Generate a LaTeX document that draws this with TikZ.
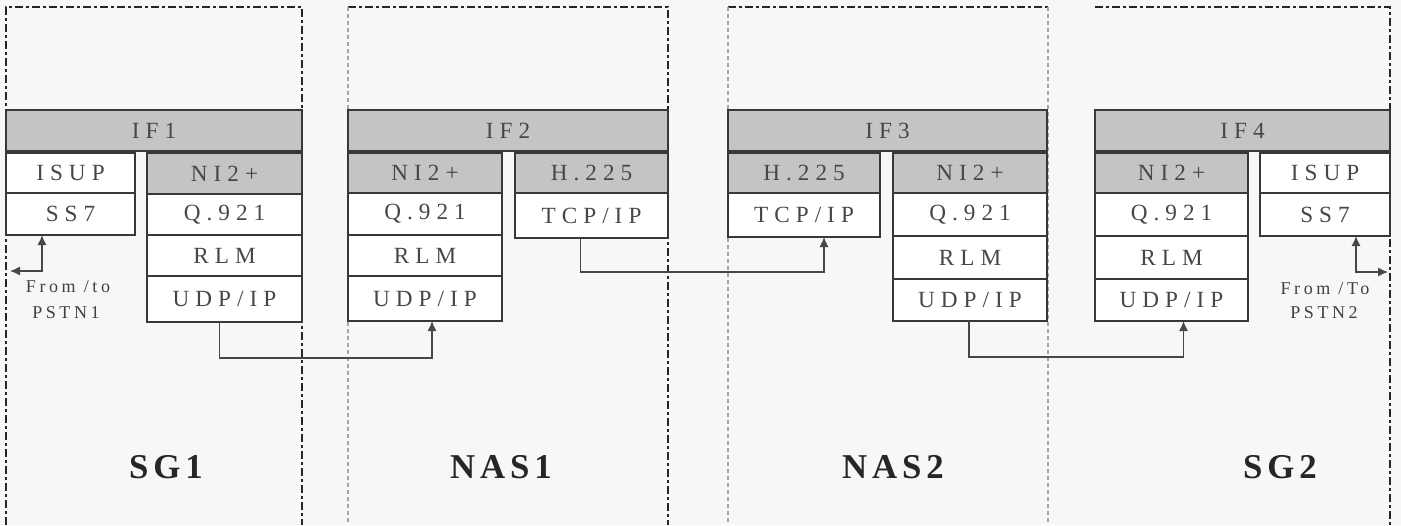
\documentclass[tikz,border=0pt]{standalone}
\usepackage{fontspec}
\setmainfont{Liberation Serif}
\newfontfamily\boxfont[LetterSpace=26]{Liberation Serif}
\newfontfamily\labfont[LetterSpace=20]{Liberation Serif}
\newfontfamily\bigfont[LetterSpace=14]{Liberation Serif}
\usetikzlibrary{arrows.meta,calc}
\newcommand{\pbox}[7]{\node[#6, minimum width={(#4-#2)*0.5pt}, minimum height={(#5-#3)*0.5pt}] (#1) at ({(#2+#4)/2},{(#3+#5)/2}) {#7};}
\tikzset{
  box/.style={draw=black!78, line width=1pt, fill=white, inner sep=0pt, outer sep=0pt,
    font=\boxfont\fontsize{11.6}{13}\selectfont, text=black!72},
  gbox/.style={box, fill=black!23},
  conn/.style={draw=black!72, line width=0.8pt},
  dk/.style={draw=black!85, line width=0.9pt, dash pattern=on 4pt off 1.5pt on 1.5pt off 1.5pt},
  lt/.style={draw=black!35, line width=0.6pt, dash pattern=on 2pt off 1.5pt},
  lab/.style={inner sep=0pt, font=\labfont\fontsize{9}{10}\selectfont, text=black!75},
  big/.style={inner sep=0pt, font=\bigfont\bfseries\fontsize{17.4}{20}\selectfont, text=black!85},
  >={Latex[length=5pt,width=4.6pt]}
}
\begin{document}
\begin{tikzpicture}[x=0.5pt,y=-0.5pt]
\useasboundingbox (0,0) rectangle (1401,525);
\fill[black!3] (0,0) rectangle (1401,525);
% regions
\draw[dk] (6,525) -- (6,7) -- (302,7) -- (302,525);
\draw[dk] (348,7) -- (668,7) -- (668,525);
\draw[lt] (348,7) -- (348,525);
\draw[dk] (728,7) -- (1048,7);
\draw[lt] (728,7) -- (728,525);
\draw[lt] (1048,7) -- (1048,525);
\draw[dk] (1095,7) -- (1390,7) -- (1390,525);
% SG1
\pbox{if1}{6}{110}{302}{151}{gbox}{IF1}
\pbox{isupA}{6}{153}{135}{193}{box}{ISUP}
\pbox{ss7A}{6}{193}{135}{235}{box}{SS7}
\pbox{niA}{147}{153}{302}{194}{gbox}{NI2+}
\pbox{qA}{147}{194}{302}{235}{box}{Q.921}
\pbox{rlmA}{147}{235}{302}{276}{box}{RLM}
\pbox{udpA}{147}{276}{302}{322}{box}{UDP/IP}
% NAS1
\pbox{if2}{348}{110}{668}{151}{gbox}{IF2}
\pbox{niB}{348}{153}{502}{193}{gbox}{NI2+}
\pbox{qB}{348}{193}{502}{235}{box}{Q.921}
\pbox{rlmB}{348}{235}{502}{276}{box}{RLM}
\pbox{udpB}{348}{276}{502}{321}{box}{UDP/IP}
\pbox{hB}{515}{153}{668}{193}{gbox}{H.225}
\pbox{tcpB}{515}{193}{668}{238}{box}{TCP/IP}
% NAS2
\pbox{if3}{728}{110}{1047}{151}{gbox}{IF3}
\pbox{hC}{728}{153}{880}{193}{gbox}{H.225}
\pbox{tcpC}{728}{193}{880}{237}{box}{TCP/IP}
\pbox{niC}{893}{153}{1047}{193}{gbox}{NI2+}
\pbox{qC}{893}{193}{1047}{236}{box}{Q.921}
\pbox{rlmC}{893}{236}{1047}{279}{box}{RLM}
\pbox{udpC}{893}{279}{1047}{321}{box}{UDP/IP}
% SG2
\pbox{if4}{1095}{110}{1390}{151}{gbox}{IF4}
\pbox{niD}{1095}{153}{1248}{193}{gbox}{NI2+}
\pbox{qD}{1095}{193}{1248}{236}{box}{Q.921}
\pbox{rlmD}{1095}{236}{1248}{279}{box}{RLM}
\pbox{udpD}{1095}{279}{1248}{321}{box}{UDP/IP}
\pbox{isupD}{1260}{153}{1390}{193}{box}{ISUP}
\pbox{ss7D}{1260}{193}{1390}{236}{box}{SS7}
% connectors
\draw[conn,->] ($(udpA.south)+(-5,0)$) -- ++(0,36) -| ($(udpB.south)+(7,0)$);
\draw[conn,->] ($(tcpB.south)+(-11,0)$) -- ++(0,34) -| ($(tcpC.south)+(20,0)$);
\draw[conn,->] ($(udpC.south)+(-1,0)$) -- ++(0,36) -| ($(udpD.south)+(12,0)$);
\coordinate (pA) at (10,271);
\draw[conn,<->] (pA) -| ($(ss7A.south)+(-28.5,0)$);
\coordinate (pD) at (1388,272);
\draw[conn,<->] ($(ss7D.south)+(31,0)$) |- (pD);
% labels
\node[lab] (fromA) at (68,287) {From /to};
\node[lab] (pstnA) at (66,313) {PSTN1};
\node[lab] (fromD) at (1325,289) {From /To};
\node[lab] (pstnD) at (1324,313) {PSTN2};
\node[big] (sg1) at (166,467) {SG1};
\node[big] (nas1) at (501,467) {NAS1};
\node[big] (nas2) at (893,467) {NAS2};
\node[big] (sg2) at (1280,467) {SG2};
\end{tikzpicture}
\end{document}
